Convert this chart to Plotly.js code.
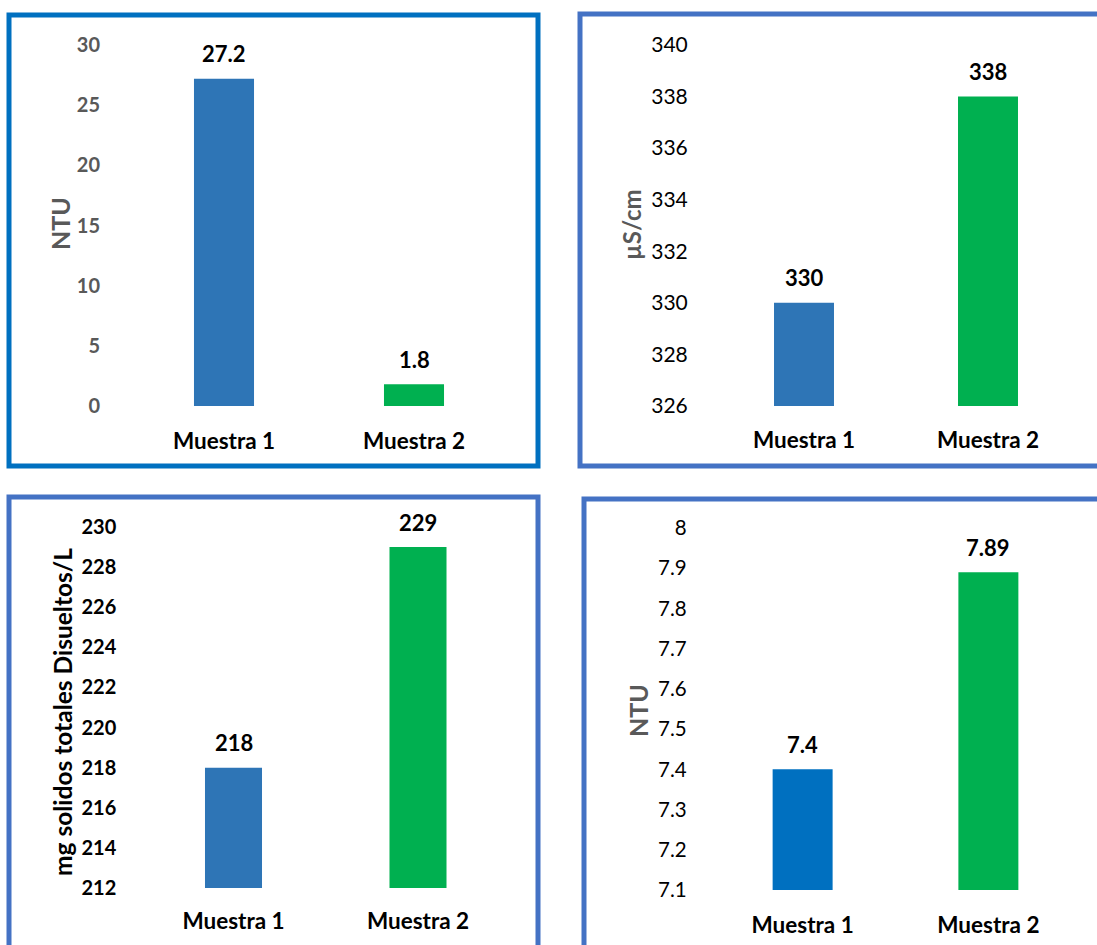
<!DOCTYPE html>
<html>
<head>
<meta charset="utf-8">
<script src="https://cdn.plot.ly/plotly-3.0.1.min.js"></script>
<style>html,body{margin:0;padding:0;background:#fff;}#chart{width:1097px;height:945px;}</style>
</head>
<body>
<div id="chart"></div>
<script>
// ---- data ----
var categories = ["Muestra 1", "Muestra 2"];
var turbidezValues = [27.2, 1.8];
var conductividadValues = [330, 338];
var solidosValues = [218, 229];
var ntu2Values = [7.4, 7.89];

var turbidezTicks = [0, 5, 10, 15, 20, 25, 30];
var conductividadTicks = [326, 328, 330, 332, 334, 336, 338, 340];
var solidosTicks = [212, 214, 216, 218, 220, 222, 224, 226, 228, 230];
var ntu2Ticks = [7.1, 7.2, 7.3, 7.4, 7.5, 7.6, 7.7, 7.8, 7.9, 8];

var titleTurbidez = "NTU";
var titleConductividad = "µS/cm";
var titleSolidos = "mg solidos totales Disueltos/L";
var titleNtu2 = "NTU";

// ---- layout helpers ----
var W = 1097, H = 945;
function px(x){ return x / W; }
function py(y){ return 1 - y / H; }

var FONT = "Lato, 'Open Sans', sans-serif";
var BLUE = "#2E75B6", BLUE2 = "#0070C0", GREEN = "#00B050";
var GRAY = "#595959";

// panel geometry (pixels)
var panels = [
  {vals: turbidezValues, ticks: turbidezTicks, range: [0, 30], x0: 129, x1: 509, y0: 45, y1: 406,
   colors: [BLUE, GREEN], width: 0.316, tickColor: GRAY, tickBold: true, tickSize: 20, tlen: 24,
   title: titleTurbidez, tx: 60, ty: 224, titleColor: GRAY, titleSize: 25, xlen: 15},
  {vals: conductividadValues, ticks: conductividadTicks, range: [326, 340], x0: 712, x1: 1080, y0: 45, y1: 406,
   colors: [BLUE, GREEN], width: 0.326, tickColor: "#000", tickBold: false, tickSize: 21, tlen: 19,
   title: titleConductividad, tx: 631, ty: 225, titleColor: GRAY, titleSize: 24, xlen: 14},
  {vals: solidosValues, ticks: solidosTicks, range: [212, 230], x0: 141.25, x1: 510.25, y0: 527, y1: 888,
   colors: [BLUE, GREEN], width: 0.309, tickColor: "#000", tickBold: true, tickSize: 20, tlen: 20,
   title: titleSolidos, tx: 62, ty: 712, titleColor: "#000", titleSize: 24.5, xlen: 13},
  {vals: ntu2Values, ticks: ntu2Ticks, range: [7.1, 8], x0: 709.75, x1: 1081.25, y0: 528, y1: 890,
   colors: [BLUE2, GREEN], width: 0.323, tickColor: "#000", tickBold: false, tickSize: 20.5, tlen: 18,
   title: titleNtu2, tx: 638, ty: 711, titleColor: GRAY, titleSize: 25, xlen: 15}
];

var traces = [];
var layout = {
  width: W, height: H,
  margin: {l: 0, r: 0, t: 0, b: 0},
  paper_bgcolor: "#fff", plot_bgcolor: "rgba(0,0,0,0)",
  showlegend: false,
  font: {family: FONT, color: "#000"},
  annotations: [],
  shapes: []
};

panels.forEach(function(p, i){
  var n = i + 1;
  var xa = "x" + (n === 1 ? "" : n), ya = "y" + (n === 1 ? "" : n);
  var xk = "xaxis" + (n === 1 ? "" : n), yk = "yaxis" + (n === 1 ? "" : n);
  traces.push({
    type: "bar", x: categories, y: p.vals, xaxis: xa, yaxis: ya,
    marker: {color: p.colors}, width: p.width, hoverinfo: "skip"
  });
  layout[xk] = {
    domain: [px(p.x0), px(p.x1)], anchor: ya, type: "category", range: [-0.5, 1.5],
    showgrid: false, zeroline: false, showline: false,
    ticks: "outside", ticklen: p.xlen, tickcolor: "rgba(0,0,0,0)",
    tickfont: {family: FONT, size: 22.5, color: "#000", weight: "bold"}, fixedrange: true
  };
  layout[yk] = {
    domain: [py(p.y1), py(p.y0)], anchor: xa, range: p.range,
    tickmode: "array", tickvals: p.ticks, ticktext: p.ticks.map(String),
    showgrid: false, zeroline: false, showline: false,
    ticks: "outside", ticklen: p.tlen, tickcolor: "rgba(0,0,0,0)",
    tickfont: {family: FONT, size: p.tickSize, color: p.tickColor, weight: p.tickBold ? "bold" : "normal"},
    fixedrange: true
  };
  // data labels
  categories.forEach(function(c, k){
    layout.annotations.push({
      xref: xa, yref: ya, x: c, y: p.vals[k], text: String(p.vals[k]),
      showarrow: false, yanchor: "middle", yshift: 25,
      font: {family: FONT, size: 22, color: "#000", weight: "bold"}
    });
  });
  // y title
  layout.annotations.push({
    xref: "paper", yref: "paper", x: px(p.tx), y: py(p.ty), text: p.title,
    textangle: -90, showarrow: false, xanchor: "center", yanchor: "middle",
    font: {family: FONT, size: p.titleSize, color: p.titleColor, weight: "bold"}
  });
});

// panel frames
var frames = [
  {x0: 9, y0: 15, x1: 538, y1: 466, c: "#0070C0"},
  {x0: 580, y0: 14, x1: 1110, y1: 466, c: "#4472C4"},
  {x0: 9, y0: 497, x1: 538, y1: 960, c: "#4472C4"},
  {x0: 584, y0: 499, x1: 1110, y1: 960, c: "#4472C4"}
];
frames.forEach(function(f){
  layout.shapes.push({type: "rect", xref: "paper", yref: "paper",
    x0: px(f.x0), x1: px(f.x1), y0: py(f.y1), y1: py(f.y0),
    line: {color: f.c, width: 5}, fillcolor: "rgba(0,0,0,0)", layer: "below"});
});

Plotly.newPlot("chart", traces, layout, {displayModeBar: false, staticPlot: true});
</script>
</body>
</html>
